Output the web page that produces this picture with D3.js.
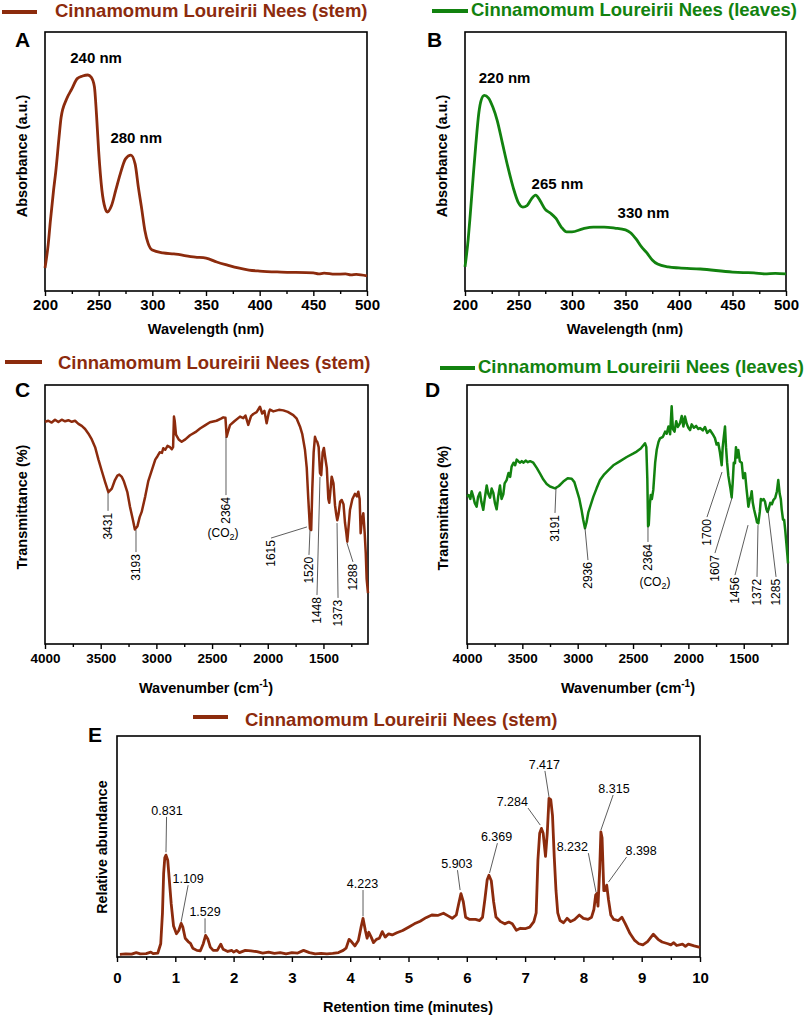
<!DOCTYPE html>
<html>
<head>
<meta charset="utf-8">
<script src="https://cdn.jsdelivr.net/npm/d3@7"></script>
<style>
  body { margin: 0; background: #fff; }
  svg text { font-family: "Liberation Sans", Arial, sans-serif; }
</style>
</head>
<body>
<div id="chart"></div>
<script>
var stemColor = "#8c2b0d";
var leafColor = "#12820f";
var stemLabel = "Cinnamomum Loureirii Nees (stem)";
var leafLabel = "Cinnamomum Loureirii Nees (leaves)";

// UV-vis spectra (A, B)
var uvStemNm  = [200,203,205,208,210,213,215,220,225,230,235,240,243,246,248,250,253,256,258,262,266,270,275,280,284,287,290,293,296,300,310,320,340,350,360,370,380,390,400,420,450,455,460,470,480,485,490,500];
var uvStemAbs = [0.089,0.18,0.27,0.39,0.46,0.59,0.67,0.74,0.78,0.82,0.83,0.834,0.826,0.79,0.68,0.54,0.39,0.32,0.305,0.33,0.39,0.45,0.51,0.525,0.49,0.40,0.32,0.235,0.185,0.158,0.147,0.143,0.131,0.127,0.112,0.100,0.089,0.081,0.077,0.073,0.070,0.066,0.069,0.065,0.066,0.062,0.064,0.058];
var uvLeafNm  = [200,203,205,208,210,213,215,218,222,226,230,235,240,245,250,254,258,262,266,270,275,280,285,290,295,300,310,320,330,340,350,355,360,365,370,375,380,390,400,420,450,460,470,480,490,500];
var uvLeafAbs = [0.093,0.20,0.30,0.46,0.56,0.69,0.735,0.755,0.745,0.71,0.66,0.57,0.48,0.40,0.34,0.324,0.33,0.355,0.37,0.35,0.315,0.30,0.28,0.247,0.228,0.228,0.24,0.247,0.247,0.243,0.236,0.224,0.20,0.17,0.147,0.12,0.104,0.093,0.089,0.085,0.073,0.071,0.07,0.066,0.068,0.066];
var uvMajor = [200,250,300,350,400,450,500];
var uvMinor = [225,275,325,375,425,475];
var uvStemPeaks = [{t:"240 nm", x:247.6, y:0.88}, {t:"280 nm", x:285, y:0.571}];
var uvLeafPeaks = [{t:"220 nm", x:237, y:0.803}, {t:"265 nm", x:286.4, y:0.394}, {t:"330 nm", x:366.8, y:0.282}];

// FTIR spectra (C, D)
var irStemWn = [4000,3970,3940,3910,3880,3850,3820,3790,3760,3730,3700,3670,3640,3610,3580,3550,3520,3490,3460,3431,3400,3372,3350,3333,3310,3291,3260,3237,3210,3193,3170,3150,3132,3100,3072,3040,3010,2990,2970,2950,2938,2920,2900,2878,2862,2850,2842,2835,2824,2800,2773,2740,2698,2650,2608,2560,2519,2460,2420,2399,2380,2369,2360,2339,2300,2249,2220,2200,2175,2150,2130,2100,2070,2050,2030,2010,1990,1980,1950,1900,1860,1820,1771,1740,1711,1690,1666,1650,1636,1621,1610,1600,1588,1576,1565,1555,1543,1531,1520,1507,1496,1486,1470,1456,1448,1440,1426,1410,1396,1385,1376,1365,1350,1336,1320,1307,1295,1286,1275,1262,1240,1217,1200,1187,1175,1166,1155,1142,1130,1120,1112,1100];
var irStemT  = [0.858,0.862,0.855,0.866,0.857,0.866,0.860,0.864,0.858,0.862,0.850,0.842,0.830,0.812,0.790,0.760,0.712,0.668,0.625,0.586,0.600,0.633,0.650,0.654,0.645,0.627,0.585,0.530,0.478,0.442,0.455,0.490,0.510,0.570,0.630,0.672,0.712,0.725,0.740,0.738,0.756,0.750,0.765,0.760,0.752,0.760,0.878,0.860,0.808,0.790,0.781,0.790,0.806,0.818,0.832,0.845,0.856,0.862,0.870,0.875,0.874,0.800,0.815,0.845,0.860,0.878,0.872,0.882,0.846,0.880,0.888,0.895,0.916,0.890,0.900,0.852,0.895,0.905,0.898,0.904,0.902,0.896,0.884,0.870,0.840,0.810,0.750,0.680,0.560,0.445,0.440,0.600,0.740,0.800,0.785,0.780,0.760,0.660,0.652,0.740,0.757,0.725,0.680,0.560,0.545,0.580,0.646,0.620,0.535,0.500,0.478,0.500,0.550,0.556,0.540,0.470,0.430,0.395,0.450,0.517,0.560,0.580,0.570,0.588,0.560,0.428,0.480,0.505,0.430,0.350,0.250,0.196];
var irLeafWn = [4000,3985,3970,3958,3945,3930,3913,3900,3883,3870,3853,3840,3822,3808,3792,3777,3762,3748,3732,3718,3702,3688,3672,3660,3642,3625,3610,3597,3580,3565,3551,3535,3520,3505,3491,3470,3450,3430,3401,3370,3340,3310,3280,3250,3205,3170,3130,3090,3054,3030,3009,2985,2964,2950,2934,2920,2904,2880,2859,2830,2798,2760,2720,2678,2620,2557,2500,2467,2430,2392,2380,2371,2364,2358,2348,2340,2330,2317,2300,2286,2270,2256,2230,2210,2196,2180,2165,2151,2140,2125,2110,2095,2076,2060,2045,2031,2015,2000,1985,1970,1950,1930,1910,1895,1870,1850,1830,1805,1780,1760,1745,1730,1715,1699,1690,1680,1669,1660,1650,1639,1628,1620,1609,1600,1590,1579,1570,1560,1549,1535,1518,1505,1488,1475,1465,1458,1445,1435,1428,1418,1407,1390,1380,1368,1355,1345,1330,1320,1308,1295,1285,1278,1260,1245,1233,1215,1200,1188,1175,1165,1157,1145,1135,1125,1115,1105,1100];
var irLeafT  = [0.569,0.575,0.560,0.590,0.572,0.545,0.530,0.568,0.585,0.548,0.518,0.560,0.612,0.580,0.565,0.600,0.583,0.545,0.520,0.570,0.612,0.560,0.578,0.620,0.633,0.660,0.645,0.685,0.700,0.690,0.712,0.705,0.700,0.706,0.700,0.708,0.702,0.706,0.700,0.680,0.658,0.635,0.618,0.608,0.601,0.610,0.627,0.640,0.638,0.625,0.595,0.560,0.515,0.480,0.447,0.470,0.508,0.540,0.568,0.600,0.633,0.655,0.672,0.690,0.705,0.722,0.735,0.743,0.755,0.775,0.760,0.640,0.455,0.460,0.540,0.575,0.560,0.595,0.700,0.750,0.780,0.794,0.800,0.820,0.812,0.840,0.810,0.918,0.830,0.820,0.860,0.838,0.852,0.880,0.840,0.878,0.850,0.835,0.826,0.848,0.835,0.842,0.830,0.834,0.825,0.838,0.815,0.826,0.810,0.795,0.770,0.776,0.740,0.690,0.760,0.800,0.840,0.760,0.700,0.650,0.620,0.600,0.566,0.620,0.700,0.698,0.760,0.720,0.749,0.705,0.700,0.640,0.660,0.600,0.560,0.530,0.560,0.570,0.590,0.545,0.520,0.490,0.470,0.466,0.510,0.560,0.555,0.560,0.550,0.520,0.510,0.517,0.545,0.540,0.555,0.565,0.590,0.633,0.580,0.560,0.520,0.480,0.480,0.440,0.390,0.340,0.311];
var irMajor = [4000,3500,3000,2500,2000,1500];
var irMinor = [3750,3250,2750,2250,1750,1250];
var irStemBands = [
  {t:"3431", px:3434, py:0.583, ex:3434, ey:0.514},
  {t:"3193", px:3183, py:0.440, ex:3183, ey:0.355},
  {t:"2364", px:2375, py:0.800, ex:2375, ey:0.575},
  {t:"1615", px:1648, py:0.452, ex:1971, ey:0.409},
  {t:"1520", px:1621, py:0.440, ex:1630, ey:0.344},
  {t:"1448", px:1531, py:0.645, ex:1558, ey:0.189},
  {t:"1373", px:1378, py:0.467, ex:1369, ey:0.178},
  {t:"1288", px:1289, py:0.390, ex:1235, ey:0.317}
];
var irLeafBands = [
  {t:"3191", px:3196, py:0.602, ex:3205, ey:0.506},
  {t:"2936", px:2934, py:0.448, ex:2907, ey:0.324},
  {t:"2364", px:2365, py:0.452, ex:2365, ey:0.394},
  {t:"1700", px:1696, py:0.664, ex:1832, ey:0.490},
  {t:"1607", px:1606, py:0.564, ex:1760, ey:0.351},
  {t:"1456", px:1461, py:0.459, ex:1579, ey:0.266},
  {t:"1372", px:1371, py:0.459, ex:1380, ey:0.259},
  {t:"1285", px:1281, py:0.517, ex:1208, ey:0.259}
];
var irStemCO2 = {x:2402, y:0.43};
var irLeafCO2 = {x:2302, y:0.239};

// chromatogram (E)
var gcTime = [0.05,0.15,0.25,0.33,0.4,0.5,0.58,0.62,0.7,0.75,0.78,0.80,0.82,0.84,0.87,0.90,0.93,0.97,1.02,1.06,1.10,1.13,1.17,1.22,1.26,1.3,1.37,1.43,1.48,1.52,1.56,1.6,1.65,1.72,1.78,1.82,1.9,1.97,2.0,2.05,2.1,2.2,2.3,2.4,2.5,2.6,2.7,2.8,2.9,3.0,3.1,3.2,3.3,3.4,3.5,3.6,3.7,3.8,3.88,3.93,3.98,4.02,4.08,4.14,4.19,4.22,4.26,4.29,4.32,4.36,4.4,4.45,4.5,4.55,4.6,4.66,4.72,4.8,4.9,5.0,5.1,5.2,5.3,5.4,5.5,5.6,5.68,5.75,5.82,5.86,5.9,5.94,5.98,6.05,6.15,6.22,6.27,6.31,6.35,6.38,6.42,6.46,6.5,6.58,6.65,6.72,6.78,6.85,6.92,7.0,7.08,7.15,7.19,7.22,7.25,7.28,7.31,7.35,7.38,7.41,7.44,7.47,7.5,7.53,7.56,7.6,7.66,7.72,7.78,7.85,7.93,8.0,8.08,8.14,8.18,8.21,8.23,8.25,8.28,8.3,8.32,8.35,8.37,8.4,8.43,8.47,8.52,8.6,8.66,8.72,8.8,8.88,8.95,9.02,9.1,9.2,9.28,9.35,9.45,9.5,9.55,9.6,9.7,9.75,9.8,9.9,10.0];
var gcAbund = [0.012,0.014,0.013,0.020,0.014,0.015,0.022,0.015,0.018,0.060,0.200,0.378,0.450,0.461,0.438,0.340,0.240,0.140,0.105,0.120,0.152,0.135,0.085,0.070,0.062,0.040,0.030,0.028,0.060,0.098,0.080,0.045,0.030,0.030,0.058,0.035,0.025,0.030,0.022,0.030,0.020,0.030,0.028,0.024,0.018,0.022,0.016,0.020,0.014,0.020,0.018,0.030,0.020,0.014,0.016,0.014,0.016,0.020,0.030,0.040,0.080,0.070,0.050,0.075,0.140,0.175,0.120,0.085,0.112,0.090,0.065,0.080,0.085,0.115,0.090,0.105,0.100,0.110,0.120,0.135,0.150,0.162,0.178,0.190,0.188,0.198,0.186,0.175,0.190,0.240,0.287,0.250,0.180,0.170,0.170,0.165,0.180,0.260,0.350,0.370,0.345,0.250,0.181,0.160,0.150,0.158,0.150,0.121,0.130,0.128,0.135,0.160,0.200,0.440,0.560,0.582,0.560,0.455,0.560,0.718,0.712,0.640,0.453,0.300,0.200,0.165,0.155,0.175,0.160,0.170,0.190,0.175,0.170,0.180,0.215,0.280,0.287,0.230,0.400,0.566,0.540,0.300,0.300,0.325,0.260,0.190,0.170,0.165,0.180,0.150,0.106,0.075,0.060,0.055,0.070,0.103,0.080,0.068,0.060,0.055,0.065,0.052,0.058,0.048,0.058,0.050,0.044];
var gcMajor = [0,1,2,3,4,5,6,7,8,9,10];
var gcMinor = [0.5,1.5,2.5,3.5,4.5,5.5,6.5,7.5,8.5,9.5];
var gcPeaks = [
  {t:"0.831", px:0.84,  py:0.474, ex:0.85,  ey:0.634, tx:0.857},
  {t:"1.109", px:1.10,  py:0.159, ex:1.22,  ey:0.325, tx:1.22},
  {t:"1.529", px:1.51,  py:0.107, ex:1.51,  ey:0.175, tx:1.51},
  {t:"4.223", px:4.22,  py:0.184, ex:4.22,  ey:0.303, tx:4.21},
  {t:"5.903", px:5.885, py:0.303, ex:5.84,  ey:0.393, tx:5.83},
  {t:"6.369", px:6.39,  py:0.380, ex:6.525, ey:0.515, tx:6.51},
  {t:"7.284", px:7.26,  py:0.597, ex:7.05,  ey:0.674, tx:6.78},
  {t:"7.417", px:7.41,  py:0.724, ex:7.34,  ey:0.842, tx:7.33},
  {t:"8.232", px:8.217, py:0.293, ex:8.085, ey:0.470, tx:7.81},
  {t:"8.315", px:8.30,  py:0.574, ex:8.51,  ey:0.733, tx:8.525},
  {t:"8.398", px:8.43,  py:0.339, ex:8.74,  ey:0.452, tx:8.99}
];

var svg = d3.select("#chart").append("svg")
  .attr("width", 809)
  .attr("height", 1018);

function panel(p) {
  var x = d3.scaleLinear().domain(p.xDomain).range([p.left, p.right]);
  var y = d3.scaleLinear().domain([0, 1]).range([p.bottom, p.top]);

  var minor = svg.append("g")
    .attr("transform", "translate(0," + p.bottom + ")")
    .call(d3.axisBottom(x).tickValues(p.minor).tickSize(3).tickFormat(""));
  var major = svg.append("g")
    .attr("transform", "translate(0," + p.bottom + ")")
    .call(d3.axisBottom(x).tickValues(p.major).tickSize(5).tickPadding(p.pad).tickFormat(d3.format("d")));
  [minor, major].forEach(function(g) {
    g.select(".domain").remove();
    g.selectAll(".tick line").attr("stroke", "#000").attr("stroke-width", 1.4);
  });
  major.selectAll(".tick text")
    .attr("fill", "#000")
    .style("font-size", p.tickSize + "px")
    .style("font-weight", "bold");

  svg.append("rect")
    .attr("x", p.left).attr("y", p.top)
    .attr("width", p.right - p.left).attr("height", p.bottom - p.top)
    .attr("fill", "none").attr("stroke", "#000").attr("stroke-width", 1.6);

  svg.append("path")
    .datum(d3.zip(p.xs, p.ys))
    .attr("fill", "none")
    .attr("stroke", p.color)
    .attr("stroke-width", p.lw)
    .attr("stroke-linejoin", "round")
    .attr("d", d3.line()
      .x(function(d) { return x(d[0]); })
      .y(function(d) { return y(d[1]); })
      .curve(p.smooth ? d3.curveMonotoneX : d3.curveLinear));

  svg.append("text")
    .attr("x", p.left - p.letterDx).attr("y", p.top + p.letterDy)
    .style("font-size", "21px").style("font-weight", "bold")
    .text(p.letter);

  return {x: x, y: y};
}

function legend(x1, x2, ly, tx, ty, label, color) {
  svg.append("line")
    .attr("x1", x1).attr("x2", x2).attr("y1", ly).attr("y2", ly)
    .attr("stroke", color).attr("stroke-width", 4);
  svg.append("text")
    .attr("x", tx).attr("y", ty)
    .attr("fill", color)
    .style("font-size", "18.5px").style("font-weight", "bold")
    .text(label);
}

function yTitle(x, y, label, size) {
  svg.append("text")
    .attr("transform", "translate(" + x + "," + y + ") rotate(-90)")
    .attr("text-anchor", "middle")
    .style("font-size", size + "px").style("font-weight", "bold")
    .text(label);
}

function xTitle(x, y, label, sup) {
  var t = svg.append("text")
    .attr("x", x).attr("y", y)
    .attr("text-anchor", "middle")
    .style("font-size", "14.5px").style("font-weight", "bold")
    .text(label);
  if (sup) {
    t.append("tspan").attr("dy", -6).style("font-size", "10px").text(sup);
    t.append("tspan").attr("dy", 6).text(")");
  }
}

function co2(s, pos) {
  var t = svg.append("text")
    .attr("x", s.x(pos.x)).attr("y", s.y(pos.y))
    .attr("text-anchor", "middle")
    .attr("dy", "0.35em")
    .style("font-size", "12px")
    .text("(CO");
  t.append("tspan").attr("dy", 3).style("font-size", "9px").text("2");
  t.append("tspan").attr("dy", -3).text(")");
}

function bands(s, list) {
  list.forEach(function(b) {
    svg.append("line")
      .attr("x1", s.x(b.px)).attr("y1", s.y(b.py))
      .attr("x2", s.x(b.ex)).attr("y2", s.y(b.ey))
      .attr("stroke", "#333").attr("stroke-width", 0.8);
    svg.append("text")
      .attr("transform", "translate(" + s.x(b.ex) + "," + (s.y(b.ey) + 2) + ") rotate(-90)")
      .attr("text-anchor", "end")
      .attr("dy", "0.35em")
      .style("font-size", "12px")
      .text(b.t);
  });
}

// A
var a = panel({left: 45, right: 367, top: 32, bottom: 291, xDomain: [200, 500],
  major: uvMajor, minor: uvMinor, pad: 3, tickSize: 15,
  xs: uvStemNm, ys: uvStemAbs, color: stemColor, lw: 2.8, smooth: true,
  letter: "A", letterDx: 30, letterDy: 15});
uvStemPeaks.forEach(function(d) {
  svg.append("text").attr("x", a.x(d.x)).attr("y", a.y(d.y))
    .attr("text-anchor", "middle")
    .style("font-size", "15px").style("font-weight", "bold").text(d.t);
});
legend(2, 37, 12, 55, 17, stemLabel, stemColor);
yTitle(27, 156, "Absorbance (a.u.)", 14.5);
xTitle(206, 334, "Wavelength (nm)");

// B
var b = panel({left: 465, right: 786, top: 32, bottom: 291, xDomain: [200, 500],
  major: uvMajor, minor: uvMinor, pad: 3, tickSize: 15,
  xs: uvLeafNm, ys: uvLeafAbs, color: leafColor, lw: 2.8, smooth: true,
  letter: "B", letterDx: 38, letterDy: 15});
uvLeafPeaks.forEach(function(d) {
  svg.append("text").attr("x", b.x(d.x)).attr("y", b.y(d.y))
    .attr("text-anchor", "middle")
    .style("font-size", "15px").style("font-weight", "bold").text(d.t);
});
legend(432, 468, 11, 471, 16, leafLabel, leafColor);
yTitle(447, 156, "Absorbance (a.u.)", 14.5);
xTitle(625, 334, "Wavelength (nm)");

// C
var c = panel({left: 45, right: 368, top: 385, bottom: 644, xDomain: [4000, 1100],
  major: irMajor, minor: irMinor, pad: 4.5, tickSize: 13.5,
  xs: irStemWn, ys: irStemT, color: stemColor, lw: 2.5, smooth: false,
  letter: "C", letterDx: 30, letterDy: 12});
bands(c, irStemBands);
co2(c, irStemCO2);
legend(5, 42, 362, 58, 369, stemLabel, stemColor);
yTitle(27, 507, "Transmittance (%)", 14.5);
xTitle(206, 693, "Wavenumber (cm", "-1");

// D
var dd = panel({left: 467, right: 788, top: 385, bottom: 644, xDomain: [4000, 1100],
  major: irMajor, minor: irMinor, pad: 4.5, tickSize: 13.5,
  xs: irLeafWn, ys: irLeafT, color: leafColor, lw: 2.5, smooth: false,
  letter: "D", letterDx: 42, letterDy: 12});
bands(dd, irLeafBands);
co2(dd, irLeafCO2);
legend(440, 475, 368, 478, 373, leafLabel, leafColor);
yTitle(448, 508, "Transmittance (%)", 14.5);
xTitle(628, 693, "Wavenumber (cm", "-1");

// E
var e = panel({left: 117, right: 700, top: 736, bottom: 957, xDomain: [0, 10],
  major: gcMajor, minor: gcMinor, pad: 10, tickSize: 15,
  xs: gcTime, ys: gcAbund, color: stemColor, lw: 2.8, smooth: false,
  letter: "E", letterDx: 29, letterDy: 6});
gcPeaks.forEach(function(p) {
  svg.append("line")
    .attr("x1", e.x(p.px)).attr("y1", e.y(p.py))
    .attr("x2", e.x(p.ex)).attr("y2", e.y(p.ey))
    .attr("stroke", "#333").attr("stroke-width", 0.8);
  svg.append("text")
    .attr("x", e.x(p.tx)).attr("y", e.y(p.ey) - 2)
    .attr("text-anchor", "middle")
    .style("font-size", "12.5px")
    .text(p.t);
});
legend(193, 228, 717, 245, 726, stemLabel, stemColor);
yTitle(107, 847, "Relative abundance", 14.2);
xTitle(408, 1012, "Retention time (minutes)");
</script>
</body>
</html>
